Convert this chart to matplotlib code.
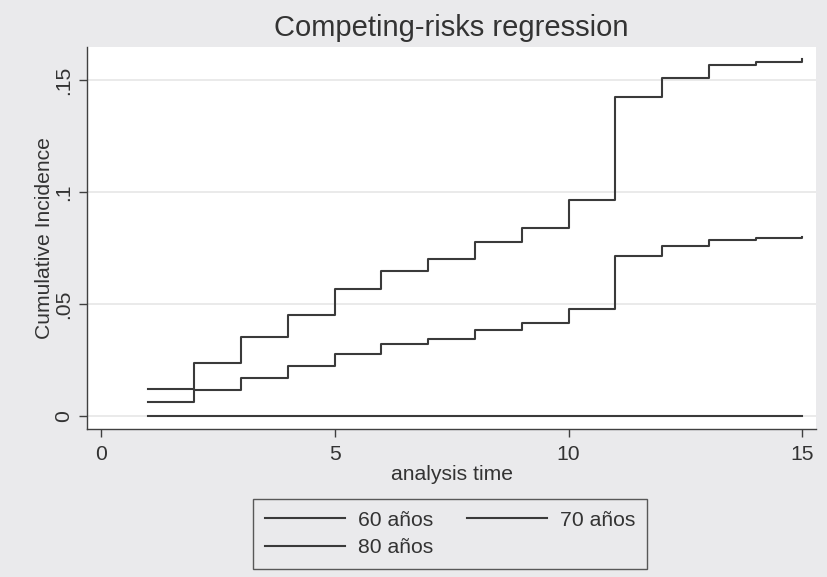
import matplotlib
matplotlib.use('Agg')
import matplotlib.pyplot as plt

# analysis time (years) and cumulative incidence per age group
time = [1, 2, 3, 4, 5, 6, 7, 8, 9, 10, 11, 12, 13, 14, 15]
ci_60 = [0.0121, 0.0236, 0.0352, 0.0452, 0.0566, 0.0648, 0.0701, 0.0779,
         0.0839, 0.0963, 0.1425, 0.1509, 0.1566, 0.1582, 0.1594]
ci_70 = [0.0060, 0.0115, 0.0170, 0.0221, 0.0278, 0.0319, 0.0345, 0.0384,
         0.0413, 0.0478, 0.0715, 0.0757, 0.0788, 0.0794, 0.0801]
ci_80 = [0.0] * 15

xticks = [0, 5, 10, 15]
yticks = [0, 0.05, 0.1, 0.15]
ytick_labels = ['0', '.05', '.1', '.15']

plt.rcParams['font.family'] = ['Liberation Sans', 'DejaVu Sans']
bg = '#eaeaec'
ink = '#333333'
line_col = '#3a3a3a'
fs = 15.2

fig = plt.figure(figsize=(8.27, 5.77), dpi=100, facecolor=bg)
ax = fig.add_axes([0.1056, 0.256, 0.8811, 0.6631])
ax.set_facecolor('white')

h60, = ax.step(time, ci_60, where='post', color=line_col, lw=1.5)
h70, = ax.step(time, ci_70, where='post', color=line_col, lw=1.5)
h80, = ax.step(time, ci_80, where='post', color=line_col, lw=1.5)

ax.set_xlim(-0.287, 15.29)
ax.set_ylim(-0.006, 0.165)
ax.set_xticks(xticks)
ax.set_yticks(yticks)
ax.set_yticklabels(ytick_labels, rotation=90, va='center')
for y in yticks:
    ax.axhline(y, color='#e6e6e6', lw=1.2, zorder=0)

for side in ['top', 'right']:
    ax.spines[side].set_visible(False)
for side in ['left', 'bottom']:
    ax.spines[side].set_color('#404040')
    ax.spines[side].set_linewidth(1.0)
ax.tick_params(axis='both', direction='out', length=6, width=1.0,
               color='#404040', labelcolor=ink, labelsize=fs, pad=5)
ax.tick_params(axis='y', pad=4)

ax.set_xlabel('analysis time', fontsize=fs, color=ink, labelpad=1)
ax.set_ylabel('Cumulative Incidence', fontsize=fs, color=ink, labelpad=0)
fig.text(0.546, 0.951, 'Competing-risks regression', ha='center', va='center',
         fontsize=21, color=ink)

leg = fig.legend([h60, h80, h70], ['60 años', '80 años', '70 años'],
                 ncol=2, loc='center', bbox_to_anchor=(0.544, 0.075),
                 fontsize=fs, frameon=True, fancybox=False, handlelength=3.8,
                 handletextpad=0.6, columnspacing=1.6, labelspacing=0.4,
                 borderpad=0.55, labelcolor=ink)
leg.get_frame().set_edgecolor('#333333')
leg.get_frame().set_facecolor(bg)
leg.get_frame().set_linewidth(1.0)

fig.savefig('out.png', dpi=100, facecolor=bg)
